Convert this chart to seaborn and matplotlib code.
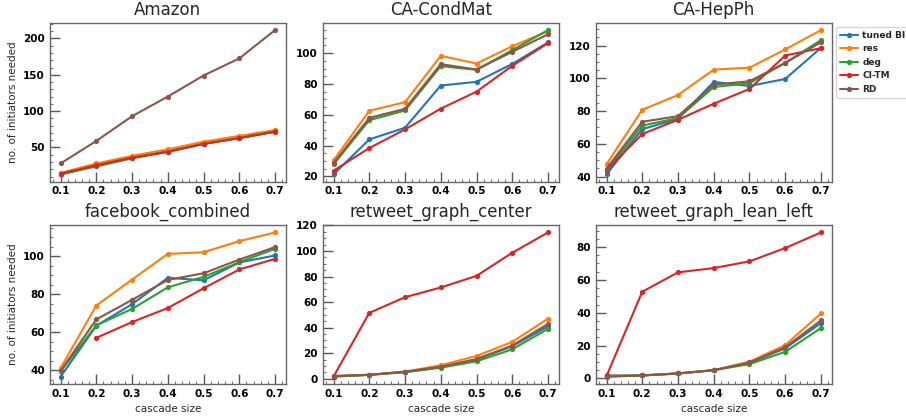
import numpy as np
import pandas as pd
import matplotlib
matplotlib.use("Agg")
import matplotlib.pyplot as plt
from matplotlib.ticker import AutoMinorLocator
import seaborn as sns

# cascade sizes on the x axis
cascade = [0.1, 0.2, 0.3, 0.4, 0.5, 0.6, 0.7]
methods = ['tuned BI', 'res', 'deg', 'CI-TM', 'RD']
colors = ['#1f77b4', '#ff7f0e', '#2ca02c', '#d62728', '#8c564b']

# values (one list per method, per dataset)
amazon = {
    'tuned BI': [13, 25, 36, 45, 55, 63, 72],
    'res':      [15, 28, 38.5, 47.5, 58, 66, 74],
    'deg':      [13, 24, 35, 44, 55, 63, 72],
    'CI-TM':    [14, 25.5, 36, 44, 55, 63, 71.5],
    'RD':       [28, 59, 93, 120, 149, 172.5, 211.5],
}
condmat = {
    'tuned BI': [21.3, 44, 51.6, 79, 81.4, 93, 107],
    'res':      [30.4, 62.6, 68.2, 98.3, 93.3, 104.5, 114.3],
    'deg':      [27.8, 56.5, 62.8, 91.6, 89.2, 102, 115],
    'CI-TM':    [23.7, 38.4, 50.5, 64, 75, 91.8, 106.5],
    'RD':       [28.6, 58, 63.9, 92.9, 89.4, 100.9, 112.3],
}
hepph = {
    'tuned BI': [41.4, 69, 75.3, 97.8, 95.3, 99.6, 118.6],
    'res':      [47.6, 80.8, 89.8, 105.3, 106.5, 117.6, 129.4],
    'deg':      [43.5, 71.2, 75.7, 94.7, 97, 109.4, 123.3],
    'CI-TM':    [44, 66, 74.7, 84.5, 93.5, 113.9, 118.4],
    'RD':       [44.9, 73.5, 76.9, 96.1, 98.2, 109.4, 122],
}
facebook = {
    'tuned BI': [36.5, 63.4, 74.7, 88.6, 87.3, 96.7, 100.4],
    'res':      [41, 74, 87.7, 101.2, 102.1, 107.9, 112.5],
    'deg':      [39.3, 63.6, 72.2, 83.6, 89.1, 96.8, 103.9],
    'CI-TM':    [np.nan, 57, 65.3, 72.7, 83.1, 93, 98.6],
    'RD':       [39.6, 66.7, 77, 87.5, 91, 98.2, 104.8],
}
rt_center = {
    'tuned BI': [2, 3, 5.3, 9, 15, 25.4, 41],
    'res':      [2, 3, 5.5, 10.5, 17.8, 28.8, 47],
    'deg':      [1.5, 3, 5, 8.6, 13.6, 23, 39],
    'CI-TM':    [1.6, 51.5, 63.8, 71.4, 80.5, 98.6, 114.5],
    'RD':       [2, 3, 5.5, 9.3, 15.4, 25.9, 42.9],
}
rt_left = {
    'tuned BI': [1.8, 1.8, 3, 5, 9.5, 18.3, 33.7],
    'res':      [1.5, 1.8, 3, 5, 10.2, 20.3, 39.6],
    'deg':      [1.2, 1.8, 3, 5, 8.7, 16.2, 30.7],
    'CI-TM':    [1.4, 52.8, 64.6, 67.2, 71.3, 79.4, 88.9],
    'RD':       [1.0, 1.8, 3, 5, 9.7, 19, 35.3],
}

datasets = ['Amazon', 'CA-CondMat', 'CA-HepPh',
            'facebook_combined', 'retweet_graph_center', 'retweet_graph_lean_left']
values = [amazon, condmat, hepph, facebook, rt_center, rt_left]

rows = []
for name, d in zip(datasets, values):
    for m in methods:
        for x, y in zip(cascade, d[m]):
            rows.append({'dataset': name, 'method': m, 'cascade size': x, 'n': y})
df = pd.DataFrame(rows)

sns.set_style("ticks")
plt.rcParams['font.family'] = ['DejaVu Sans']

fig, axes = plt.subplots(2, 3, figsize=(9.06, 4.16), dpi=100)
plt.subplots_adjust(left=0.055, right=0.918, top=0.945, bottom=0.077,
                    wspace=0.157, hspace=0.275)

for i, (ax, name) in enumerate(zip(axes.flat, datasets)):
    sub = df[df['dataset'] == name]
    sns.lineplot(data=sub, x='cascade size', y='n', hue='method', hue_order=methods,
                 palette=colors, marker='o', markersize=3.8, markeredgewidth=0,
                 linewidth=1.5, ax=ax, legend=(i == 2))
    ax.set_title(name, fontsize=12)
    ax.set_xticks(cascade)
    ax.xaxis.set_minor_locator(AutoMinorLocator(5))
    ax.yaxis.set_minor_locator(AutoMinorLocator())
    ax.tick_params(which='major', direction='in', length=7, width=1, colors='0.35',
                   labelcolor='black', labelsize=7.5)
    ax.tick_params(which='minor', direction='in', length=2.5, width=0.8, colors='0.45')
    for lab in ax.get_xticklabels() + ax.get_yticklabels():
        lab.set_fontweight('bold')
    for sp in ax.spines.values():
        sp.set_color('0.4')
        sp.set_linewidth(1)
    ax.set_ylabel('no. of initiators needed' if i % 3 == 0 else '', fontsize=7.5)
    ax.set_xlabel('cascade size' if i >= 3 else '', fontsize=7.5)

leg = axes[0, 2].legend(loc='upper left', bbox_to_anchor=(1.017, 0.975),
                        borderaxespad=0, handletextpad=0.5, borderpad=0.45,
                        prop={'weight': 'bold', 'size': 6.5}, title=None)

fig.savefig('out.png', dpi=100)
